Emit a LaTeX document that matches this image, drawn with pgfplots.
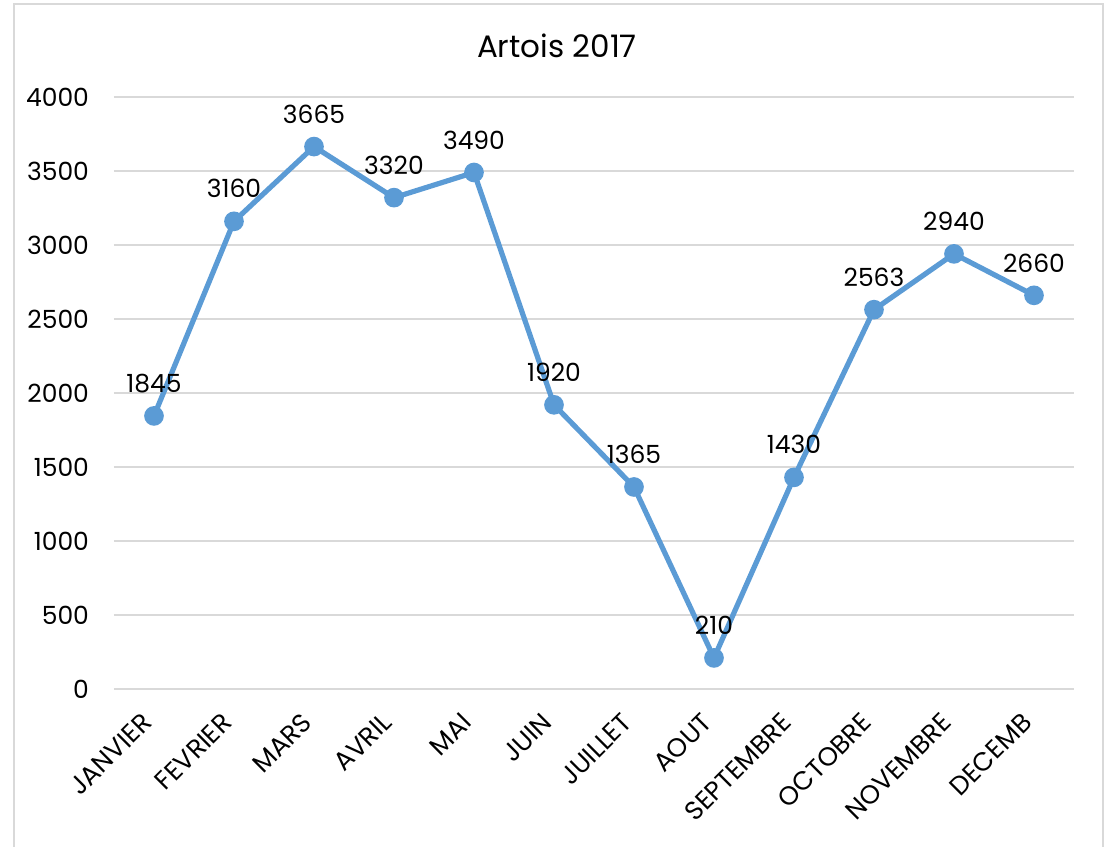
\documentclass[border=0pt]{standalone}
\usepackage{fontspec}
\setmainfont{Poppins}
\usepackage{pgfplots}
\pgfplotsset{compat=1.18}
\definecolor{lineblue}{HTML}{5B9BD5}
\definecolor{gridgray}{HTML}{D9D9D9}

\begin{document}
\begin{tikzpicture}[x=0.5pt,y=0.5pt]
% picture is 1116 x 847 px, 1 px = 0.5pt, y measured from bottom
\useasboundingbox (0,0) rectangle (1116,847);
\draw[gridgray, line width=1.2pt] (14,-20) -- (14,843) -- (1103,843) -- (1103,-20);
\node[font=\fontsize{15.5}{18}\selectfont] at (557,801) {Artois 2017};
\begin{axis}[
    at={(57pt,79pt)}, anchor=south west,
    scale only axis,
    width=480pt, height=296pt,
    xmin=-0.5, xmax=11.5,
    ymin=0, ymax=4000,
    xtick={0,...,11},
    xticklabels={JANVIER,FEVRIER,MARS,AVRIL,MAI,JUIN,JUILLET,AOUT,SEPTEMBRE,OCTOBRE,NOVEMBRE,DECEMB},
    ytick={0,500,...,4000},
    major tick length=0pt,
    axis line style={draw=none},
    ymajorgrids,
    grid style={gridgray, line width=1pt},
    tick label style={font=\fontsize{12.5}{15}\selectfont},
    /pgf/number format/assume math mode=true,
    /pgf/number format/1000 sep={},
    yticklabel style={anchor=east, xshift=-9pt},
    xticklabel style={font=\fontsize{13}{16}\selectfont, xshift=-1pt, yshift=-12pt, rotate=45, anchor=east},
    nodes near coords,
    every node near coord/.append style={font=\fontsize{12.5}{15}\selectfont, black, anchor=south, yshift=7pt},
    clip=false,
]
\addplot[lineblue, line width=2.6pt, mark=*, mark size=3.6pt, mark options={fill=lineblue, draw=lineblue}]
coordinates {(0,1845) (1,3160) (2,3665) (3,3320) (4,3490) (5,1920) (6,1365) (7,210) (8,1430) (9,2563) (10,2940) (11,2660)};
\end{axis}
\end{tikzpicture}
\end{document}
